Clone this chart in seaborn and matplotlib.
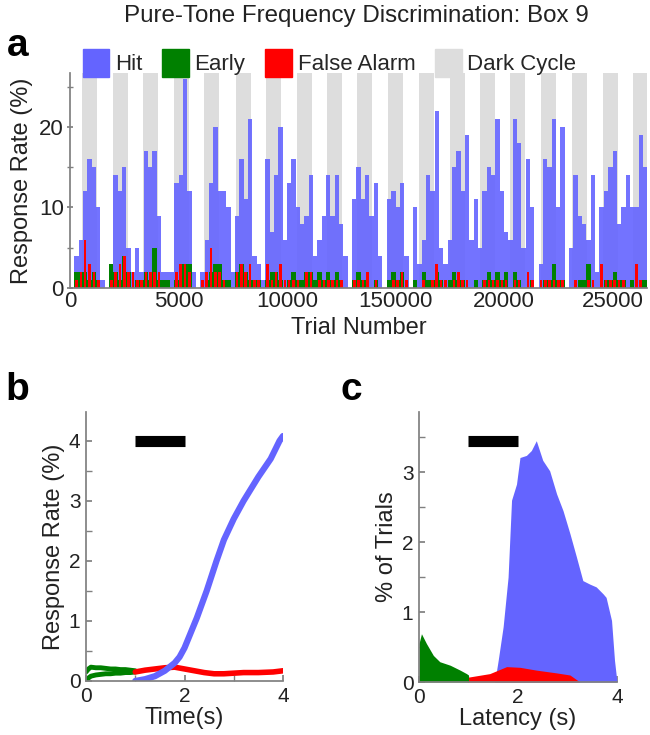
import numpy as np
import pandas as pd
import seaborn as sns
import matplotlib.pyplot as plt
from matplotlib.patches import Patch

# ---- panel a: response rate per 200-trial bin ----
bin_size = 200
hit = [0, 4, 6, 12, 16, 15, 10, 1, 0, 3,
       14, 12, 15, 5, 2, 5, 2, 17, 15, 17,
       9, 2, 2, 2, 13, 14, 26, 12, 2, 0,
       2, 6, 13, 20, 12, 12, 10, 2, 9, 16,
       11, 21, 4, 3, 1, 16, 7, 14, 20, 6,
       13, 16, 10, 8, 9, 14, 4, 6, 9, 14,
       9, 14, 8, 4, 0, 11, 15, 11, 14, 9,
       13, 4, 0, 11, 12, 10, 13, 4, 0, 10,
       3, 6, 14, 12, 22, 5, 3, 6, 15, 17,
       12, 19, 6, 11, 5, 12, 15, 14, 21, 12,
       7, 6, 21, 18, 5, 16, 10, 0, 3, 16,
       15, 21, 10, 20, 0, 5, 14, 9, 8, 6,
       14, 2, 10, 12, 15, 17, 8, 10, 14, 10,
       10, 19, 15]
early = [0, 2, 2, 2, 1, 2, 1, 0, 0, 3,
         2, 1, 4, 2, 0, 1, 1, 2, 1, 5,
         1, 1, 1, 0, 1, 3, 3, 3, 0, 0,
         0, 1, 2, 3, 3, 1, 1, 0, 2, 3,
         2, 1, 1, 1, 0, 1, 2, 2, 1, 0,
         1, 2, 1, 1, 2, 2, 1, 2, 1, 2,
         1, 2, 1, 0, 0, 1, 2, 1, 1, 0,
         1, 0, 0, 1, 2, 1, 2, 0, 0, 1,
         0, 2, 1, 1, 2, 1, 0, 1, 2, 1,
         1, 0, 0, 1, 0, 1, 2, 1, 2, 1,
         2, 0, 2, 1, 0, 0, 1, 0, 0, 1,
         1, 3, 1, 1, 0, 0, 0, 1, 1, 3,
         0, 0, 0, 1, 1, 2, 1, 1, 0, 1,
         0, 1, 1]
false_alarm = [0, 1, 2, 6, 3, 2, 1, 0, 0, 1,
               2, 3, 4, 2, 2, 1, 1, 2, 2, 2,
               2, 0, 0, 0, 2, 3, 3, 2, 0, 0,
               1, 2, 5, 2, 2, 1, 0, 0, 2, 3,
               2, 3, 1, 1, 0, 3, 1, 2, 3, 1,
               1, 1, 1, 0, 2, 2, 0, 1, 1, 1,
               1, 1, 1, 0, 0, 1, 1, 1, 2, 0,
               1, 0, 0, 0, 1, 1, 2, 1, 0, 0,
               0, 1, 0, 1, 3, 1, 1, 0, 1, 2,
               1, 1, 0, 0, 0, 1, 1, 1, 1, 1,
               1, 0, 1, 1, 0, 2, 1, 0, 1, 1,
               1, 1, 1, 1, 0, 0, 1, 0, 0, 1,
               1, 0, 3, 1, 1, 1, 1, 1, 0, 0,
               3, 1, 0]
dark_starts = [540, 1970, 3380, 4790, 6190, 7640, 9020, 10450, 11830, 13230,
               14640, 16080, 17510, 18890, 20280, 21700, 23120, 24550, 25960]
dark_len = 690
x_ticks = [0, 5000, 10000, 15000, 20000, 25000]
x_tick_labels = ['0', '5000', '10000', '150000', '20000', '25000']

# ---- panel b: response rate over time ----
hit_t = [1.0, 1.2, 1.4, 1.6, 1.8, 1.9, 2.0, 2.1, 2.25, 2.45, 2.65, 2.8, 3.0,
         3.2, 3.5, 3.75, 3.93, 4.0]
hit_rate = [0.0, 0.03, 0.08, 0.17, 0.3, 0.4, 0.55, 0.75, 1.05, 1.5, 2.0, 2.35,
            2.7, 3.0, 3.4, 3.7, 4.0, 4.08]
early_t = [0.0, 0.05, 0.1, 0.2, 0.3, 0.4, 0.5, 0.6, 0.7, 0.8, 0.9, 1.0]
early_hi = [0.15, 0.2, 0.23, 0.22, 0.22, 0.21, 0.2, 0.2, 0.19, 0.19, 0.18, 0.17]
early_lo = [0.0, 0.05, 0.08, 0.1, 0.11, 0.12, 0.12, 0.13, 0.13, 0.14, 0.14, 0.15]
fa_t = [1.0, 1.2, 1.4, 1.6, 1.8, 2.0, 2.2, 2.4, 2.6, 2.8, 3.0, 3.2, 3.5, 3.8, 4.0]
fa_rate = [0.15, 0.18, 0.2, 0.22, 0.23, 0.2, 0.17, 0.14, 0.12, 0.12, 0.13,
           0.14, 0.14, 0.15, 0.17]

# ---- panel c: latency distributions ----
early_lat = [0.0, 0.05, 0.15, 0.29, 0.42, 0.63, 0.83, 0.96, 1.0]
early_pct = [0.55, 0.69, 0.55, 0.38, 0.29, 0.24, 0.17, 0.12, 0.1]
fa_lat = [1.0, 1.43, 1.77, 2.04, 2.37, 2.78, 3.05, 3.21, 3.25]
fa_pct = [0.07, 0.12, 0.22, 0.21, 0.17, 0.13, 0.1, 0.02, 0.0]
hit_lat = [1.53, 1.6, 1.7, 1.8, 1.87, 1.97, 2.04, 2.17, 2.27, 2.37, 2.5, 2.64,
           2.78, 2.91, 3.05, 3.18, 3.31, 3.45, 3.58, 3.72, 3.78, 3.89, 3.95, 4.0]
hit_pct = [0.0, 0.31, 0.79, 1.5, 2.6, 2.83, 3.21, 3.24, 3.31, 3.45, 3.17, 3.02,
           2.69, 2.45, 2.12, 1.79, 1.45, 1.4, 1.36, 1.26, 1.21, 0.88, 0.31, 0.0]

BLUE = '#6464ff'
GREEN = '#008000'
RED = '#ff0000'
GRAY = '#dddddd'
SPINE = '#808080'

sns.set_theme(style='ticks')
plt.rcParams['font.family'] = ['Liberation Sans', 'DejaVu Sans']
plt.rcParams['axes.edgecolor'] = SPINE
plt.rcParams['xtick.color'] = SPINE
plt.rcParams['ytick.color'] = SPINE
plt.rcParams['xtick.labelcolor'] = '#222222'
plt.rcParams['ytick.labelcolor'] = '#222222'

fig = plt.figure(figsize=(6.5, 7.35), dpi=100)

# panel a
ax = fig.add_axes([0.1077, 0.6082, 0.8877, 0.2925])
for s in dark_starts:
    ax.axvspan(s, s + dark_len, color=GRAY, lw=0, zorder=0)
centers = np.arange(len(hit)) * bin_size + bin_size / 2
sns.barplot(x=centers, y=hit, native_scale=True, width=1, color=BLUE,
            saturation=1, linewidth=0, errorbar=None, alpha=0.9, ax=ax)
sns.barplot(x=centers, y=early, native_scale=True, width=1, color=GREEN,
            saturation=1, linewidth=0, errorbar=None, ax=ax)
sns.barplot(x=centers, y=false_alarm, native_scale=True, width=0.6, color=RED,
            saturation=1, linewidth=0, errorbar=None, ax=ax)
ax.set_xlim(0, 26590)
ax.set_ylim(0, 26.7)
ax.set_xticks(x_ticks)
ax.set_xticklabels(x_tick_labels)
ax.set_yticks([0, 10, 20])
ax.set_yticks([5, 15, 25], minor=True)
ax.tick_params(axis='both', which='both', direction='inout', labelsize=16,
               length=5, pad=2)
ax.tick_params(axis='x', which='major', length=0)
ax.set_xlabel('Trial Number', fontsize=17, color='#222222')
ax.set_ylabel('Response Rate (%)', fontsize=17, color='#222222', labelpad=4)
sns.despine(ax=ax)

fig.text(0.548, 0.978, 'Pure-Tone Frequency Discrimination: Box 9',
         ha='center', va='center', fontsize=17.4, color='#222222')
handles = [Patch(color=BLUE, label='Hit'), Patch(color=GREEN, label='Early'),
           Patch(color=RED, label='False Alarm'), Patch(color=GRAY, label='Dark Cycle')]
fig.legend(handles=handles, loc='center', bbox_to_anchor=(0.507, 0.914), ncol=4,
           frameon=False, fontsize=16, handlelength=1.2, handleheight=1.6,
           handletextpad=0.25, columnspacing=0.9, borderaxespad=0)

# panel b
axb = fig.add_axes([0.1323, 0.0735, 0.3031, 0.366])
sns.lineplot(x=early_t, y=early_hi, color=GREEN, lw=3.5, ax=axb)
sns.lineplot(x=early_t, y=early_lo, color=GREEN, lw=3.5, ax=axb)
sns.lineplot(x=fa_t, y=fa_rate, color=RED, lw=4, ax=axb)
sns.lineplot(x=hit_t, y=hit_rate, color=BLUE, lw=4.5, ax=axb)
axb.plot([1, 2], [4.0, 4.0], color='black', lw=8, solid_capstyle='butt')
axb.set_xlim(0, 4)
axb.set_ylim(0, 4.48)
axb.set_xticks([0, 2, 4])
axb.set_xticks([1, 3], minor=True)
axb.set_yticks([0, 1, 2, 3, 4])
axb.set_yticks([0.5, 1.5, 2.5, 3.5], minor=True)
axb.tick_params(axis='both', which='both', direction='in', labelsize=15,
                length=4)
axb.tick_params(axis='x', pad=4)
axb.tick_params(axis='y', pad=4)
axb.set_xlabel('Time(s)', fontsize=17, color='#222222', labelpad=1)
axb.set_ylabel('Response Rate (%)', fontsize=17, color='#222222', labelpad=3)
sns.despine(ax=axb)

# panel c
axc = fig.add_axes([0.6446, 0.0721, 0.3046, 0.3673])
axc.fill_between(early_lat, early_pct, color=GREEN, lw=0)
axc.fill_between(hit_lat, hit_pct, color=BLUE, lw=0)
axc.fill_between(fa_lat, fa_pct, color=RED, lw=0)
axc.plot([1, 2], [3.45, 3.45], color='black', lw=8, solid_capstyle='butt')
axc.set_xlim(0, 4)
axc.set_ylim(0, 3.86)
axc.set_xticks([0, 2, 4])
axc.set_xticks([1, 3], minor=True)
axc.set_yticks([0, 1, 2, 3])
axc.set_yticks([0.5, 1.5, 2.5, 3.5], minor=True)
axc.tick_params(axis='both', which='both', direction='in', labelsize=15,
                length=4)
axc.tick_params(axis='x', pad=4)
axc.tick_params(axis='y', pad=4)
axc.set_xlabel('Latency (s)', fontsize=17, color='#222222', labelpad=1)
axc.set_ylabel('% of Trials', fontsize=17, color='#222222', labelpad=3)
sns.despine(ax=axc)

for lab, x, y in [('a', 0.027, 0.937), ('b', 0.027, 0.47), ('c', 0.54, 0.47)]:
    fig.text(x, y, lab, fontsize=28, fontweight='bold', ha='center',
             va='center', color='black')

fig.savefig('out.png', dpi=100)
